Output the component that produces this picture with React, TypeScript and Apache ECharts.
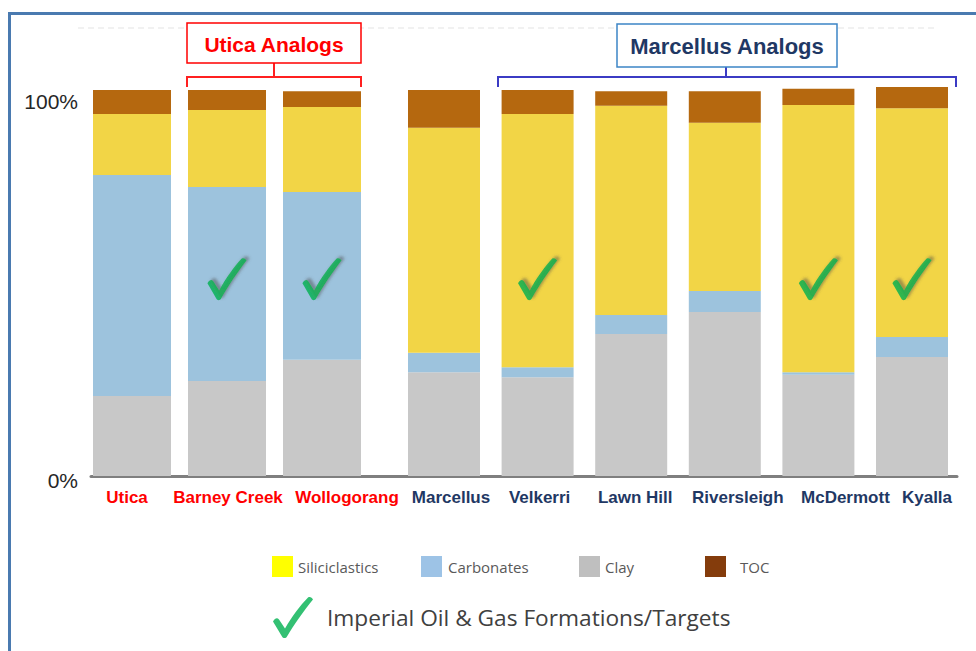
import React, { useEffect, useRef } from "react";
import * as echarts from "echarts";

// ---------- data ----------
const uticaGroup = ["Utica", "Barney Creek", "Wollogorang"];
const marcellusGroup = ["Marcellus", "Velkerri", "Lawn Hill", "Riversleigh", "McDermott", "Kyalla"];

const clayUtica = [20.7, 24.6, 30.1];
const carbUtica = [57.3, 50.3, 43.5];
const siliciUtica = [15.8, 19.9, 22.0];
const tocUtica = [6.2, 5.2, 4.1];

const clayMarcellus = [26.9, 25.6, 36.8, 42.5, 26.2, 30.8];
const carbMarcellus = [5.0, 2.6, 4.9, 5.4, 0.7, 5.2];
const siliciMarcellus = [58.3, 65.6, 54.2, 43.6, 69.2, 59.3];
const tocMarcellus = [9.8, 6.2, 3.8, 8.2, 4.2, 5.5];

const yTicks = [0, 100];
const checkTargets = ["Barney Creek", "Wollogorang", "Velkerri", "McDermott", "Kyalla"];
const checkLevel = 51;
const checkName = "Imperial Oil & Gas Formations/Targets";
const componentNames = ["Siliciclastics", "Carbonates", "Clay", "TOC"];

// ---------- layout / styles ----------
const labelShiftUtica = [-5, 1, 25];
const labelShiftMarcellus = [7, 2, 4, 13, 27, 15];
const barColors: Record<string, string> = {
  Siliciclastics: "#f2d546",
  Carbonates: "#9dc3dd",
  Clay: "#c8c8c8",
  TOC: "#b5680f",
};
const legendColors: Record<string, string> = {
  Siliciclastics: "#ffff00",
  Carbonates: "#9dc3e6",
  Clay: "#bfbfbf",
  TOC: "#843c0c",
};
const legendLeft: Record<string, number> = { Siliciclastics: 272, Carbonates: 421, Clay: 579, TOC: 705 };
const legendTextPad: Record<string, number> = { Siliciclastics: 0, Carbonates: 1, Clay: 0, TOC: 9 };

const checkPath =
  "path://M0,25 C2,22 4,21 6,23 L12,32 C19,20 27,9 35,1 C37,0 39,1 40,3 C31,14 21,28 14,40 C13,42 10,42 9,40 Z";

const pad = (d: number) => (d >= 0 ? [0, 0, 0, 2 * d] : [0, -2 * d, 0, 0]);

function buildOption() {
  const gridTop = 90;
  const gridBottom = 175;
  const labelBase = {
    margin: 13,
    fontSize: 17,
    fontWeight: "bold" as const,
    fontFamily: "Liberation Sans, Arial, sans-serif",
    interval: 0,
  };
  const groups = [
    {
      cats: uticaGroup,
      shifts: labelShiftUtica,
      color: "#ff0000",
      vals: { Clay: clayUtica, Carbonates: carbUtica, Siliciclastics: siliciUtica, TOC: tocUtica },
      barWidth: 78,
    },
    {
      cats: marcellusGroup,
      shifts: labelShiftMarcellus,
      color: "#1f3864",
      vals: { Clay: clayMarcellus, Carbonates: carbMarcellus, Siliciclastics: siliciMarcellus, TOC: tocMarcellus },
      barWidth: 72,
    },
  ];

  const series: any[] = [];
  groups.forEach((g, gi) => {
    ["Clay", "Carbonates", "Siliciclastics", "TOC"].forEach((name) => {
      series.push({
        type: "bar",
        name,
        xAxisIndex: gi,
        yAxisIndex: gi,
        stack: "s" + gi,
        barWidth: g.barWidth,
        clip: false,
        itemStyle: { color: barColors[name] },
        data: (g.vals as any)[name],
      });
    });
    series.push({
      type: "scatter",
      name: checkName,
      xAxisIndex: gi,
      yAxisIndex: gi,
      symbol: checkPath,
      symbolSize: [40, 42],
      symbolKeepAspect: true,
      z: 10,
      itemStyle: {
        color: "#00b050",
        shadowColor: "rgba(70,70,70,0.6)",
        shadowBlur: 3,
        shadowOffsetX: 3,
        shadowOffsetY: -2,
      },
      data: checkTargets.filter((c) => g.cats.includes(c)).map((c) => [c, checkLevel]),
    });
  });

  const legends: any[] = componentNames.map((name) => ({
    left: legendLeft[name],
    top: 556,
    padding: 0,
    icon: "rect",
    itemWidth: 21,
    itemHeight: 21,
    selectedMode: false,
    textStyle: {
      fontFamily: "Open Sans, sans-serif",
      fontSize: 15,
      color: "#595959",
      padding: [0, 0, 0, legendTextPad[name]],
    },
    data: [{ name, itemStyle: { color: legendColors[name] } }],
  }));
  legends.push({
    left: 273,
    top: 597,
    padding: 0,
    itemWidth: 40,
    itemHeight: 42,
    selectedMode: false,
    textStyle: {
      fontFamily: "Open Sans, sans-serif",
      fontSize: 22.7,
      color: "#404040",
      padding: [0, 0, 0, 9],
    },
    data: [{ name: checkName, icon: checkPath, itemStyle: { color: "#00b050" } }],
  });

  return {
    animation: false,
    backgroundColor: "#ffffff",
    grid: [
      { left: 84.5, width: 285, top: gridTop, bottom: gridBottom },
      { left: 397.2, width: 561.6, top: gridTop, bottom: gridBottom },
      { left: 91, right: 19, top: gridTop, bottom: gridBottom },
    ],
    xAxis: [
      ...groups.map((g, gi) => ({
        type: "category",
        gridIndex: gi,
        data: g.cats.map((c, i) => ({ value: c, textStyle: { color: g.color, padding: pad(g.shifts[i]) } })),
        axisLine: { show: false },
        axisTick: { show: false },
        splitLine: { show: false },
        axisLabel: { ...labelBase, color: g.color },
      })),
      {
        type: "value",
        gridIndex: 2,
        min: 0,
        max: 1,
        axisLine: { show: true, onZero: false, lineStyle: { color: "#7f7f7f", width: 3 } },
        axisLabel: { show: false },
        axisTick: { show: false },
        splitLine: { show: false },
      },
    ],
    yAxis: [
      { type: "value", gridIndex: 0, min: 0, max: 100, show: false },
      { type: "value", gridIndex: 1, min: 0, max: 100, show: false },
      {
        type: "value",
        gridIndex: 2,
        min: yTicks[0],
        max: yTicks[yTicks.length - 1],
        interval: yTicks[1] - yTicks[0],
        axisLine: { show: false },
        axisTick: { show: false },
        splitLine: { show: false },
        axisLabel: {
          margin: 13,
          formatter: (v: number) => (v === 100 ? "{hi|" + v + "%}" : "{lo|" + v + "%}"),
          rich: {
            hi: { fontSize: 21, color: "#262626", fontFamily: "Liberation Sans, Arial, sans-serif", padding: [22, 0, 0, 0] },
            lo: { fontSize: 21, color: "#262626", fontFamily: "Liberation Sans, Arial, sans-serif", padding: [9, 0, 0, 0] },
          },
        },
      },
    ],
    legend: legends,
    series,
    graphic: [
      {
        type: "rect",
        shape: { x: 9.5, y: 13.5, width: 1100, height: 1100 },
        style: { fill: "none", stroke: "#4a7ab0", lineWidth: 3 },
        silent: true,
      },
      {
        type: "line",
        shape: { x1: 78, y1: 28, x2: 937, y2: 28 },
        style: { stroke: "#e3e3e3", lineWidth: 1, lineDash: [6, 4] },
        silent: true,
      },
      // Utica Analogs annotation
      {
        type: "polyline",
        shape: { points: [[187, 87], [187, 77], [361, 77], [361, 87]] },
        style: { stroke: "#ff2020", lineWidth: 2, fill: "none" },
      },
      { type: "line", shape: { x1: 274, y1: 63, x2: 274, y2: 77 }, style: { stroke: "#ff2020", lineWidth: 2 } },
      {
        type: "rect",
        shape: { x: 187, y: 23, width: 174, height: 40 },
        style: { fill: "#ffffff", stroke: "#ff0000", lineWidth: 1.5 },
      },
      {
        type: "text",
        x: 274,
        y: 44,
        style: {
          text: "Utica Analogs",
          fill: "#ff0000",
          font: "bold 21px Liberation Sans, Arial, sans-serif",
          align: "center",
          verticalAlign: "middle",
        },
      },
      // Marcellus Analogs annotation
      {
        type: "polyline",
        shape: { points: [[498, 87], [498, 77], [956, 77], [956, 87]] },
        style: { stroke: "#3b3bc4", lineWidth: 2, fill: "none" },
      },
      { type: "line", shape: { x1: 726, y1: 67, x2: 726, y2: 77 }, style: { stroke: "#3b3bc4", lineWidth: 2 } },
      {
        type: "rect",
        shape: { x: 617, y: 24, width: 220, height: 43 },
        style: { fill: "#ffffff", stroke: "#3d85c6", lineWidth: 1.5 },
      },
      {
        type: "text",
        x: 727,
        y: 46,
        style: {
          text: "Marcellus Analogs",
          fill: "#1f3864",
          font: "bold 22px Liberation Sans, Arial, sans-serif",
          align: "center",
          verticalAlign: "middle",
        },
      },
    ],
  };
}

export default function App() {
  const ref = useRef<HTMLDivElement>(null);
  useEffect(() => {
    if (!ref.current) return;
    const chart = echarts.init(ref.current, undefined, { renderer: "svg" });
    chart.setOption(buildOption() as any);
    return () => chart.dispose();
  }, []);
  return <div ref={ref} style={{ position: "fixed", left: 0, top: 0, width: 976, height: 651 }} />;
}
